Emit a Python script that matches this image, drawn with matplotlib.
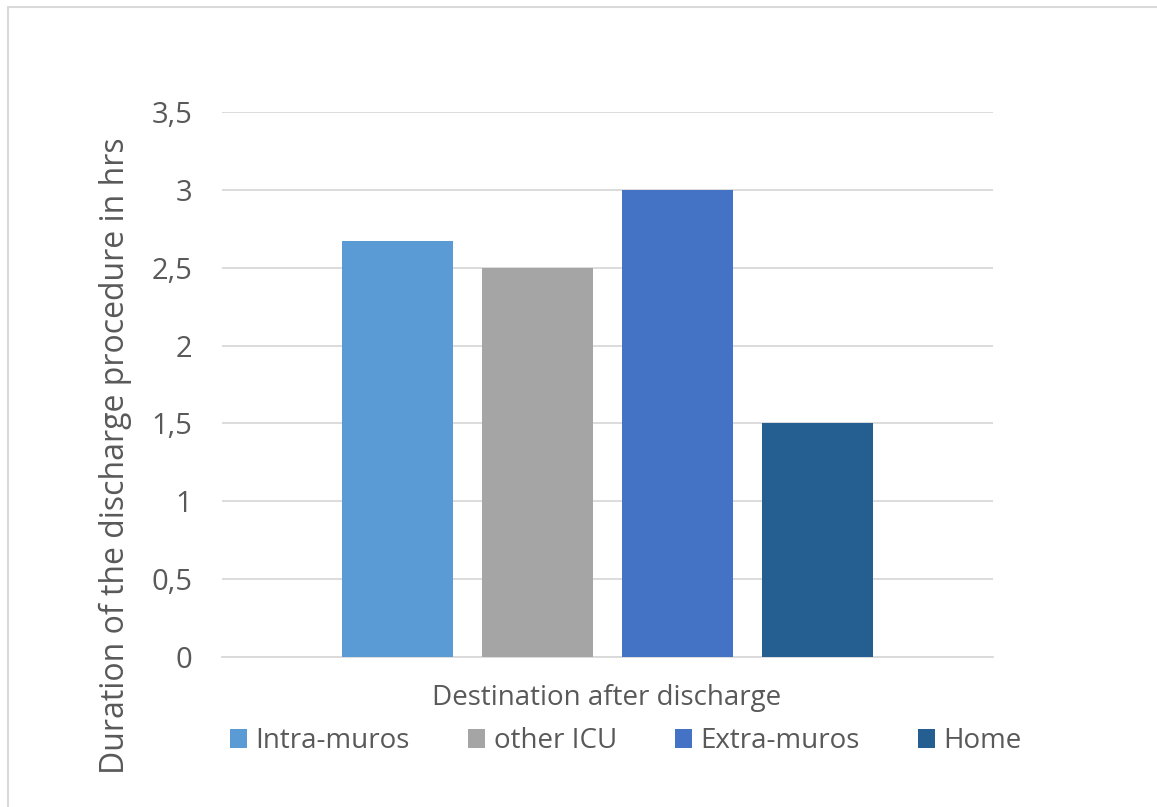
import matplotlib
matplotlib.use("Agg")
import matplotlib.pyplot as plt
from matplotlib.patches import Patch, Rectangle

# Data
destinations = ["Intra-muros", "other ICU", "Extra-muros", "Home"]
durations = [2.67, 2.5, 3.0, 1.5]
colors = ["#5B9BD5", "#A5A5A5", "#4472C4", "#255E91"]
yticks = [0, 0.5, 1, 1.5, 2, 2.5, 3, 3.5]
ytick_labels = ["0", "0,5", "1", "1,5", "2", "2,5", "3", "3,5"]

TEXT = "#595959"
GRID = "#D9D9D9"
FONT = "Open Sans"

W, H = 1157, 807
fig = plt.figure(figsize=(W / 100, H / 100), dpi=100)
fig.patch.set_facecolor("white")

ax = fig.add_axes([222 / W, 1 - 657 / H, (993 - 222) / W, (657 - 112) / H])
x = list(range(len(destinations)))
ax.bar(x, durations, width=0.79, color=colors, zorder=3)

ax.set_xlim(-1.254, 3 + 1.254)
ax.set_ylim(0, 3.5)
ax.set_yticks(yticks)
ax.set_yticklabels(ytick_labels, fontsize=21, color=TEXT, family=FONT)
ax.set_xticks([])
ax.tick_params(axis="y", length=0, pad=21.5)
ax.yaxis.grid(True, color=GRID, linewidth=1.3, zorder=0)
ax.set_axisbelow(True)
for side in ["left", "right", "top"]:
    ax.spines[side].set_visible(False)
ax.spines["bottom"].set_color(GRID)
ax.spines["bottom"].set_linewidth(1.3)

# Axis titles
fig.text(607 / W, 1 - 698 / H, "Destination after discharge", ha="center",
         va="center", fontsize=20, color=TEXT, family=FONT)
fig.text(115 / W, 1 - 456 / H, "Duration of the discharge procedure in hrs",
         ha="center", va="center", rotation=90, fontsize=23, color=TEXT,
         family=FONT)

# Legend
handles = [Patch(facecolor=c, edgecolor="none") for c in colors]
fig.legend(handles, destinations, loc="center", ncol=4,
           bbox_to_anchor=(626 / W, 1 - 741 / H), frameon=False,
           prop={"family": FONT, "size": 20}, labelcolor=TEXT,
           handlelength=0.61, handleheight=0.65, handletextpad=0.3,
           columnspacing=2.1, borderaxespad=0)

# Chart frame
fig.patches.append(Rectangle((7.5 / W, -0.2), 2, 1.2 - 6.5 / H,
                             transform=fig.transFigure, fill=False,
                             edgecolor=GRID, linewidth=1.5))

fig.savefig("out.png", dpi=100)
